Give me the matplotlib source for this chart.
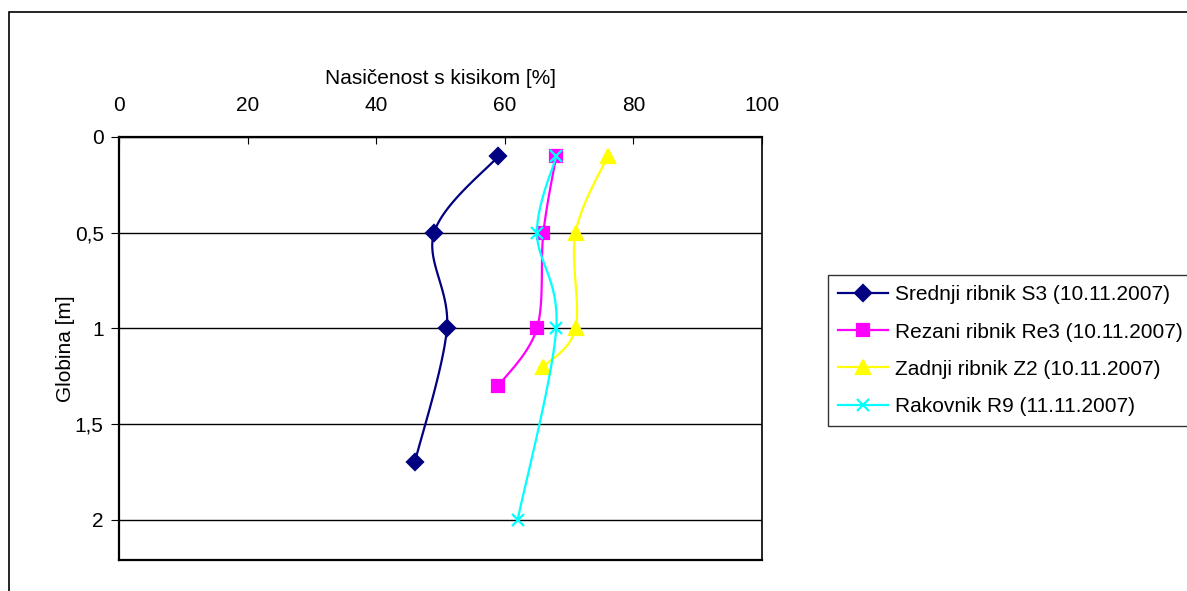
import numpy as np
import matplotlib.pyplot as plt
from matplotlib.patches import Rectangle
from matplotlib.ticker import FuncFormatter

plt.rcParams['font.family'] = ['Liberation Sans', 'DejaVu Sans']

# nasicenost s kisikom [%] in globina [m]
s3_x = [59, 49, 51, 46]
s3_y = [0.1, 0.5, 1.0, 1.7]
re3_x = [68, 66, 65, 59]
re3_y = [0.1, 0.5, 1.0, 1.3]
z2_x = [76, 71, 71, 66]
z2_y = [0.1, 0.5, 1.0, 1.2]
r9_x = [68, 65, 68, 62]
r9_y = [0.1, 0.5, 1.0, 2.0]

labels = ["Srednji ribnik S3 (10.11.2007)",
          "Rezani ribnik Re3 (10.11.2007)",
          "Zadnji ribnik Z2 (10.11.2007)",
          "Rakovnik R9 (11.11.2007)"]


def gladko(x, y, sx=6.42, sy=191.5, n=30):
    '''Catmull-Rom krivulja kot pri glajenju v Excelu (samo za risanje crte)'''
    p = np.column_stack([np.array(x) * sx, np.array(y) * sy])
    p = np.vstack([p[0], p, p[-1]])
    out = []
    t = np.linspace(0, 1, n)[:, None]
    for i in range(1, len(p) - 2):
        p0, p1, p2, p3 = p[i - 1], p[i], p[i + 1], p[i + 2]
        c = 0.5 * ((2 * p1) + (-p0 + p2) * t + (2 * p0 - 5 * p1 + 4 * p2 - p3) * t**2
                   + (-p0 + 3 * p1 - 3 * p2 + p3) * t**3)
        out.append(c)
    out = np.vstack(out)
    return out[:, 0] / sx, out[:, 1] / sy


fs = 15
fig = plt.figure(figsize=(11.87, 5.91), dpi=100)
fig.patches.append(Rectangle((9 / 1187, -0.1), 1.2, 1.1 - 12 / 591, transform=fig.transFigure,
                             fill=False, edgecolor='black', linewidth=1.2))
ax = fig.add_axes([119 / 1187, 1 - 560 / 591, (762 - 119) / 1187, (560 - 137) / 591])

serije = [(s3_x, s3_y, '#000080', 'D', 8),
          (re3_x, re3_y, '#FF00FF', 's', 8),
          (z2_x, z2_y, '#FFFF00', '^', 10),
          (r9_x, r9_y, '#00FFFF', 'x', 9)]

for (x, y, col, m, ms), lab in zip(serije, labels):
    gx, gy = gladko(x, y)
    ax.plot(gx, gy, color=col, linewidth=1.6)
    ax.plot(x, y, linestyle='none', marker=m, color=col, markersize=ms, markeredgewidth=1.6)
    ax.plot([], [], color=col, linewidth=1.6, marker=m, markersize=ms, markeredgewidth=1.6, label=lab)

ax.set_xlim(0, 100)
ax.set_ylim(2.21, 0)
ax.set_xticks([0, 20, 40, 60, 80, 100])
ax.set_yticks([0, 0.5, 1, 1.5, 2])
ax.yaxis.set_major_formatter(FuncFormatter(lambda v, p: ('%g' % v).replace('.', ',')))
ax.xaxis.tick_top()
ax.xaxis.set_label_position('top')
ax.tick_params(axis='x', direction='in', length=5, labelsize=fs, pad=15.5, top=True, bottom=False)
ax.tick_params(axis='y', direction='out', length=6, labelsize=fs, pad=5)
ax.grid(axis='y', color='black', linewidth=1)
ax.set_axisbelow(True)
for s in ax.spines.values():
    s.set_linewidth(1.6)
ax.spines['right'].set_linewidth(1.2)
ax.set_xlabel("Nasičenost s kisikom [%]", fontsize=fs, labelpad=9)
ax.set_ylabel("Globina [m]", fontsize=fs, labelpad=0)

leg = fig.legend(loc='upper left', bbox_to_anchor=(828 / 1187, 1 - 275 / 591), fontsize=fs,
                 frameon=True, fancybox=False, edgecolor='black', handlelength=2.4,
                 borderpad=0.5, labelspacing=0.87, handletextpad=0.3, borderaxespad=0)
leg.get_frame().set_linewidth(1)

fig.savefig("out.png", dpi=100)
